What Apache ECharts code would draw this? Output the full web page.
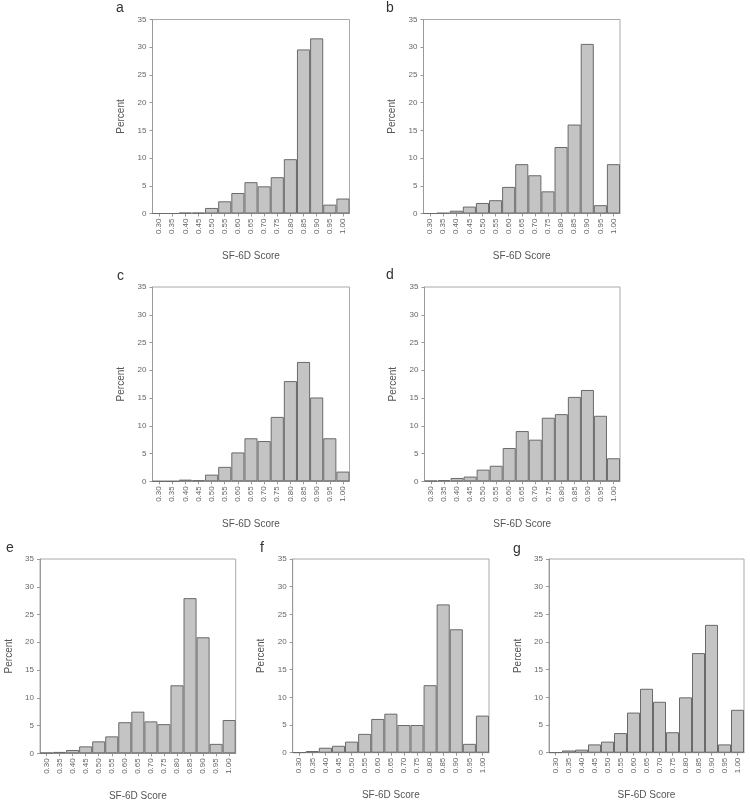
<!DOCTYPE html>
<html>
<head>
<meta charset="utf-8">
<script src="https://cdn.jsdelivr.net/npm/echarts@6/dist/echarts.min.js"></script>
<style>
html,body{margin:0;padding:0;background:#fff;}
#chart{width:750px;height:803px;}
</style>
</head>
<body>
<div id="chart"></div>
<script>
var categories = ['0.30','0.35','0.40','0.45','0.50','0.55','0.60','0.65','0.70','0.75','0.80','0.85','0.90','0.95','1.00'];
var yTicks = [0, 5, 10, 15, 20, 25, 30, 35];
var panelLetters = ['a','b','c','d','e','f','g'];

var seriesA = [0, 0, 0.15, 0.15, 1.0, 2.2, 3.7, 5.65, 4.9, 6.55, 9.8, 29.6, 31.6, 1.6, 2.7];
var seriesB = [0, 0.1, 0.5, 1.25, 1.9, 2.4, 4.8, 8.9, 6.9, 4.0, 12.0, 16.05, 30.6, 1.5, 8.9];
var seriesC = [0, 0, 0.3, 0.2, 1.2, 2.6, 5.2, 7.75, 7.25, 11.6, 18.05, 21.5, 15.1, 7.75, 1.75];
var seriesD = [0.1, 0.2, 0.6, 0.85, 2.1, 2.8, 6.0, 9.05, 7.5, 11.45, 12.1, 15.2, 16.45, 11.8, 4.15];
var seriesE = [0.1, 0.25, 0.6, 1.25, 2.15, 3.05, 5.6, 7.5, 5.75, 5.25, 12.25, 27.95, 20.9, 1.7, 6.0];
var seriesF = [0.05, 0.3, 0.9, 1.25, 2.0, 3.4, 6.1, 7.05, 5.0, 5.0, 12.2, 26.8, 22.3, 1.6, 6.7];
var seriesG = [0.05, 0.4, 0.55, 1.5, 2.0, 3.55, 7.25, 11.55, 9.2, 3.7, 10.0, 18.0, 23.1, 1.5, 7.75];

var allSeries = [seriesA, seriesB, seriesC, seriesD, seriesE, seriesF, seriesG];

// layout: [left, top, width, height]
var grids = [
  [152.5, 19.5, 197, 194],
  [423.5, 19.5, 196.5, 194],
  [152.5, 287, 197, 194.3],
  [424.5, 287, 195.5, 194.3],
  [40, 559, 195.7, 194.3],
  [292.7, 559, 196.3, 193.7],
  [549, 559, 195, 193.7]
];
var letterPos = [[116, 1], [386, 1], [117, 269], [386, 268], [6, 541], [260, 541], [513, 542]];

var option = {
  backgroundColor: '#fff',
  animation: false,
  title: [],
  grid: [],
  xAxis: [],
  yAxis: [],
  series: []
};

for (var i = 0; i < 7; i++) {
  var g = grids[i];
  option.grid.push({
    left: g[0], top: g[1], width: g[2], height: g[3],
    show: true, borderColor: '#aaa', borderWidth: 1, backgroundColor: '#fff'
  });
  option.title.push({
    text: panelLetters[i], left: letterPos[i][0], top: letterPos[i][1], padding: 0,
    textStyle: {fontFamily: 'Liberation Sans', fontSize: 14, fontWeight: 'normal', color: '#333'}
  });
  option.xAxis.push({
    type: 'category', gridIndex: i, data: categories,
    boundaryGap: true,
    name: 'SF-6D Score', nameLocation: 'middle', nameGap: 38,
    nameTextStyle: {fontFamily: 'Liberation Sans', fontSize: 10, color: '#555'},
    axisLine: {show: true, lineStyle: {color: '#999', width: 1}},
    axisTick: {show: true, alignWithLabel: true, length: 3, lineStyle: {color: '#999'}},
    axisLabel: {interval: 0, rotate: 90, fontSize: 8, color: '#666', fontFamily: 'Liberation Sans', margin: 5},
    splitLine: {show: false}
  });
  option.yAxis.push({
    type: 'value', gridIndex: i, min: yTicks[0], max: yTicks[yTicks.length - 1], interval: 5,
    name: 'Percent', nameLocation: 'middle', nameGap: 26,
    nameTextStyle: {fontFamily: 'Liberation Sans', fontSize: 10, color: '#555'},
    axisLine: {show: true, lineStyle: {color: '#999', width: 1}},
    axisTick: {show: true, length: 3, lineStyle: {color: '#999'}},
    axisLabel: {fontSize: 8, color: '#666', fontFamily: 'Liberation Sans', margin: 6},
    splitLine: {show: false}
  });
  option.series.push({
    type: 'bar', xAxisIndex: i, yAxisIndex: i, data: allSeries[i],
    barCategoryGap: '0%',
    itemStyle: {color: '#c4c4c4', borderColor: '#6a6a6a', borderWidth: 1}
  });
}

var chart = echarts.init(document.getElementById('chart'), null, {renderer: 'canvas'});
chart.setOption(option);
</script>
</body>
</html>
